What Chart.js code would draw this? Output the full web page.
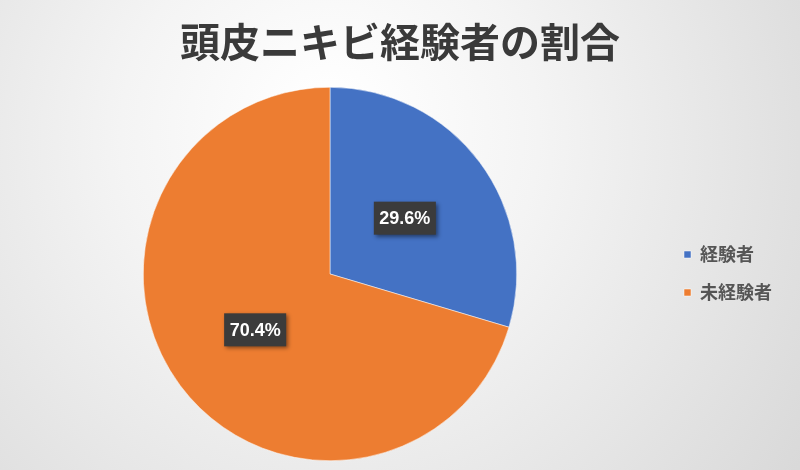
<!DOCTYPE html>
<html>
<head>
<meta charset="utf-8">
<script src="https://cdn.jsdelivr.net/npm/chart.js@4/dist/chart.umd.min.js"></script>
<style>
html,body{margin:0;padding:0;}
#wrap{width:800px;height:470px;position:relative;}
</style>
</head>
<body>
<div id="wrap"><canvas id="c" width="800" height="470"></canvas></div>
<script>
const chartTitle = '頭皮ニキビ経験者の割合';
const categories = ['経験者', '未経験者'];
const values = [29.6, 70.4];
const colors = ['#4472C4', '#ED7D31'];

const bgPlugin = {
  id: 'bg',
  beforeDraw(chart) {
    const ctx = chart.ctx;
    const w = chart.width, h = chart.height;
    ctx.save();
    const g = ctx.createRadialGradient(330, 120, 20, 330, 160, 560);
    g.addColorStop(0, '#ffffff');
    g.addColorStop(0.35, '#f4f4f4');
    g.addColorStop(1, '#d9d9d9');
    ctx.fillStyle = g;
    ctx.fillRect(0, 0, w, h);
    ctx.restore();
  }
};

const legendLayout = {
  id: 'legendLayout',
  beforeUpdate(chart) {
    const lg = chart.legend;
    if (lg && !lg._patched) {
      const orig = lg.fit;
      lg.fit = function () {
        orig.call(this);
        this.width = 140;
      };
      lg._patched = true;
    }
  },
  afterLayout(chart) {
    const lg = chart.legend;
    const w = lg.right - lg.left;
    lg.left = 664;
    lg.right = 664 + w;
    lg.top += 43;
    lg.bottom += 43;
  }
};

const labelPlugin = {
  id: 'pctLabels',
  afterDatasetsDraw(chart) {
    const ctx = chart.ctx;
    const meta = chart.getDatasetMeta(0);
    ctx.save();
    ctx.font = 'bold 18px "Liberation Sans", Arial, sans-serif';
    ctx.textAlign = 'center';
    ctx.textBaseline = 'middle';
    meta.data.forEach((arc, i) => {
      const p = arc.tooltipPosition();
      const txt = values[i].toFixed(1) + '%';
      const tw = ctx.measureText(txt).width;
      const bw = tw + 11, bh = 33;
      const x = p.x - bw / 2, y = p.y - bh / 2;
      ctx.save();
      ctx.shadowColor = 'rgba(0,0,0,0.45)';
      ctx.shadowBlur = 4;
      ctx.shadowOffsetX = 2;
      ctx.shadowOffsetY = 2;
      ctx.fillStyle = '#3b3b3b';
      ctx.fillRect(x, y, bw, bh);
      ctx.restore();
      ctx.fillStyle = '#ffffff';
      ctx.fillText(txt, p.x, p.y + 1);
    });
    ctx.restore();
  }
};

new Chart(document.getElementById('c'), {
  type: 'pie',
  data: {
    labels: categories,
    datasets: [{
      data: values,
      backgroundColor: colors,
      borderColor: '#ffffff',
      borderWidth: 0.5
    }]
  },
  options: {
    responsive: false,
    animation: false,
    devicePixelRatio: 1,
    layout: { padding: { left: 0, right: 0, top: 0, bottom: 9 } },
    plugins: {
      title: {
        display: true,
        text: chartTitle,
        color: '#3a3a3a',
        font: { size: 40, weight: 'bold', family: '"Noto Sans CJK JP", sans-serif' },
        padding: { top: 18, bottom: 21 },
        fullSize: true
      },
      legend: {
        position: 'right',
        align: 'center',
        labels: {
          boxWidth: 7,
          boxHeight: 7,
          padding: 20,
          color: '#555555',
          font: { size: 18, weight: 'bold', family: '"Noto Sans CJK JP", sans-serif' }
        }
      },
      tooltip: { enabled: false }
    }
  },
  plugins: [bgPlugin, legendLayout, labelPlugin]
});
</script>
</body>
</html>
